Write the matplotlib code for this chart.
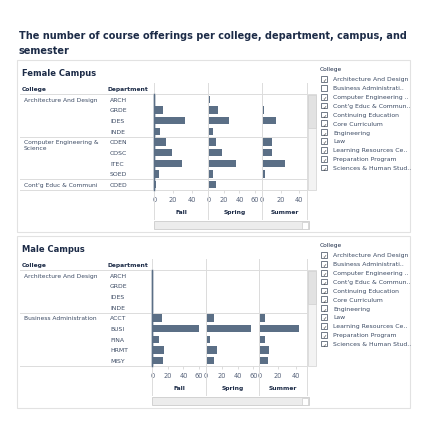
import matplotlib
matplotlib.use('Agg')
from matplotlib import pyplot as plt
from matplotlib.patches import Rectangle
from matplotlib.lines import Line2D

departments = ['ARCH', 'GRDE', 'IDES', 'INDE', 'COEN', 'COSC', 'ITEC', 'SOED', 'COED']
male_departments = ['ARCH', 'GRDE', 'IDES', 'INDE', 'ACCT', 'BUSI', 'FINA', 'HRMT', 'MISY']
semesters = ['Fall', 'Spring', 'Summer']

female_fall = [1, 9, 33, 6, 12, 19, 29, 5, 2]
female_spring = [2, 12, 27, 6, 10, 18, 35, 6, 10]
female_summer = [1.5, 2.5, 15, 0, 11, 11, 25, 3, 0]

male_fall = [0, 0, 0, 0, 12, 60, 8, 15, 14]
male_spring = [0, 0, 0, 0, 10.5, 57, 5.5, 14, 10.5]
male_summer = [0, 0, 0, 0, 6, 43, 6, 10.5, 9]

female_colleges = [('Architecture And Design', 0), ('Computer Engineering &\nScience', 4),
                   ('Cont\'g Educ & Communi', 8)]
male_colleges = [('Architecture And Design', 0), ('Business Administration', 4)]

legend_items = ['Architecture And Design', 'Business Administrati..', 'Computer Engineering ..',
                'Cont\'g Educ & Commun..', 'Continuing Education', 'Core Curriculum',
                'Engineering', 'Law', 'Learning Resources Ce..', 'Preparation Program',
                'Sciences & Human Stud..']
female_checked = [True, False, True, True, True, True, True, True, True, True, True]
male_checked = [True] * 11

W = H = 427
BAR = '#5b6f86'
NAVY = '#1c2b47'
TXT = '#3b4a63'
GRID = '#dcdcdc'

fig = plt.figure(figsize=(4.27, 4.27), dpi=100)


def fx(x):
    return x / W


def fy(y):
    return 1 - y / H


def hline(x0, x1, y, color=GRID, lw=0.7):
    fig.add_artist(Line2D([fx(x0), fx(x1)], [fy(y), fy(y)], transform=fig.transFigure,
                          color=color, lw=lw))


def vline(x, y0, y1, color=GRID, lw=0.7):
    fig.add_artist(Line2D([fx(x), fx(x)], [fy(y0), fy(y1)], transform=fig.transFigure,
                          color=color, lw=lw))


def rect(x0, y0, x1, y1, fc='none', ec=GRID, lw=0.7):
    fig.add_artist(Rectangle((fx(x0), fy(y1)), (x1 - x0) / W, (y1 - y0) / H,
                             transform=fig.transFigure, fc=fc, ec=ec, lw=lw))


# title
fig.text(fx(19), fy(36), 'The number of course offerings per college, department, campus, and',
         fontsize=7, fontweight='bold', color=NAVY, va='center')
fig.text(fx(19), fy(51), 'semester', fontsize=7, fontweight='bold', color=NAVY, va='center')


def campus(top, name, depts, colleges, data, xlims, ticks, edges, checked):
    # top = y of panel border
    rect(17, top, 410, top + 172, ec='#e2e2e2', lw=0.8)
    fig.text(fx(22), fy(top + 13), name, fontsize=6, fontweight='bold', color=NAVY, va='center')
    hy = top + 29
    fig.text(fx(22), fy(hy), 'College', fontsize=4.3, fontweight='bold', color=NAVY, va='center')
    fig.text(fx(108), fy(hy), 'Department', fontsize=4.3, fontweight='bold', color=NAVY, va='center')

    p0 = top + 34
    p1 = p0 + 96
    rh = 96 / 9.0
    hline(20, 307, p0)
    hline(20, 307, p1)
    for lab, i in colleges:
        if '\n' in lab:
            fig.text(fx(24), fy(p0 + rh * i + 2), lab, fontsize=4.3, color=TXT, va='top',
                     linespacing=1.3)
        else:
            fig.text(fx(24), fy(p0 + rh * (i + 0.5)), lab, fontsize=4.3, color=TXT, va='center')
        if i > 0:
            hline(20, 307, p0 + rh * i)
    for i, d in enumerate(depts):
        fig.text(fx(110), fy(p0 + rh * (i + 0.5)), d, fontsize=4.4, color=TXT, va='center')

    # panes
    for k in range(3):
        x0, x1 = edges[k], edges[k + 1]
        ax = fig.add_axes([fx(x0), fy(p1), (x1 - x0) / W, 96 / H])
        ax.barh(range(9), data[k], height=0.68, color=BAR)
        ax.set_ylim(8.5, -0.5)
        ax.set_xlim(0, xlims[k])
        ax.set_yticks([])
        ax.set_xticks(ticks[k])
        ax.tick_params(axis='x', length=2, width=0.5, color='#cfcfcf', labelsize=4.8,
                       labelcolor='#56627a', pad=2)
        for s in ['top', 'right', 'bottom']:
            ax.spines[s].set_visible(False)
        ax.spines['left'].set_color(BAR if k == 0 else GRID)
        ax.spines['left'].set_linewidth(1.0 if k == 0 else 0.7)
        ax.patch.set_alpha(0)
        fig.text(fx((x0 + x1) / 2), fy(p1 + 21.5), semesters[k], fontsize=4.3,
                 fontweight='bold', color=NAVY, ha='center', va='center')
    for k in range(4):
        vline(edges[k], top + 23, p1 + 29)
    vline(edges[0], p0, p1, color=BAR, lw=1.0)

    # scrollbars
    rect(edges[0], p1 + 31, 308.5, p1 + 39, fc='#ececec', ec='#cccccc', lw=0.6)
    rect(302, p1 + 31.5, 308.2, p1 + 38.5, fc='white', ec='#cccccc', lw=0.5)
    rect(308, p0, 316, p1, fc='#f3f3f3', ec='#d8d8d8', lw=0.6)
    rect(308.3, p0 + 1, 315.7, p0 + 34, fc='#e2e2e2', ec='#d0d0d0', lw=0.5)

    # legend
    fig.text(fx(320), fy(top + 9), 'College', fontsize=4.2, color=NAVY, va='center')
    for i, (lab, c) in enumerate(zip(legend_items, checked)):
        y = top + 19 + i * 8.85
        rect(321, y - 2.9, 326.7, y + 2.9, fc='white', ec='#5a6474', lw=0.6)
        if c:
            fig.text(fx(323.9), fy(y + 0.2), '\u2713', fontsize=3.6, color='#333', ha='center',
                     va='center')
        fig.text(fx(333), fy(y), lab, fontsize=4.4, color=TXT, va='center')


campus(61, 'Female Campus', departments, female_colleges,
       [female_fall, female_spring, female_summer], [57.4, 68.5, 48.5],
       [[0, 20, 40], [0, 20, 40, 60], [0, 20, 40]], [154.3, 208.3, 261.7, 307.3],
       female_checked)
campus(237, 'Male Campus', male_departments, male_colleges,
       [male_fall, male_spring, male_summer], [68.5, 67.4, 52],
       [[0, 20, 40, 60], [0, 20, 40, 60], [0, 20, 40]], [152.3, 205.7, 259.3, 307.3],
       male_checked)

plt.savefig('out.png', dpi=100)
